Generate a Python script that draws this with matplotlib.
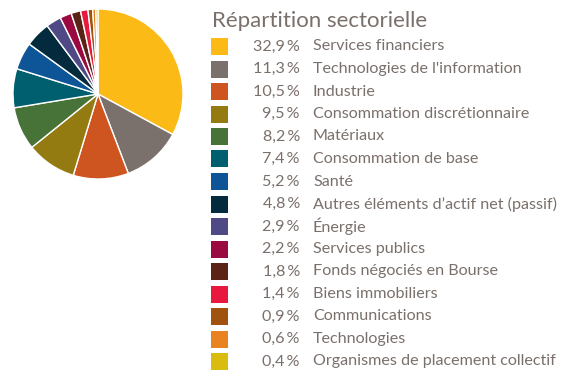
import matplotlib
matplotlib.use("Agg")
import matplotlib.pyplot as plt
from matplotlib.patches import Rectangle

sectors = [
    "Services financiers", "Technologies de l'information", "Industrie",
    "Consommation discrétionnaire", "Matériaux", "Consommation de base",
    "Santé", "Autres éléments d\u2019actif net (passif)", "Énergie",
    "Services publics", "Fonds négociés en Bourse", "Biens immobiliers",
    "Communications", "Technologies", "Organismes de placement collectif",
]
weights = [32.9, 11.3, 10.5, 9.5, 8.2, 7.4, 5.2, 4.8, 2.9, 2.2, 1.8, 1.4, 0.9, 0.6, 0.4]
colors = [
    "#FBBA16", "#7B716C", "#CF5520", "#937B12", "#477338", "#005F6E",
    "#0E5597", "#032B3D", "#4F4A86", "#9B0941", "#5A2315", "#E8183F",
    "#A0520F", "#E88320", "#D9BC0E",
]
title = "Répartition sectorielle"

W, H = 567, 370
fig = plt.figure(figsize=(W / 100, H / 100), dpi=100)
text_color = "#7A706B"
font = "Lato"

# pie
cx, cy, r = 98, 94, 85
ax = fig.add_axes([(cx - r) / W, (H - cy - r) / H, 2 * r / W, 2 * r / H])
ax.pie(weights, colors=colors, startangle=90, counterclock=False,
       wedgeprops=dict(edgecolor="white", linewidth=1.0))
ax.set_aspect("auto")
ax.set_xlim(-1.0, 1.0)
ax.set_ylim(-1.0, 1.0)
ax.axis("off")

# legend
fig.text(212 / W, 1 - 21 / H, title, fontsize=16, color=text_color,
         family=font, va="center", ha="left")
y0, dy = 46.5, 22.5
for i, (name, w, c) in enumerate(zip(sectors, weights, colors)):
    y = y0 + i * dy
    fig.add_artist(Rectangle((211 / W, 1 - (y + 8.5) / H), 17 / W, 17 / H,
                             transform=fig.transFigure, facecolor=c,
                             edgecolor="none"))
    pct = f"{w:.1f}".replace(".", ",") + "\u2009%"
    fig.text(300 / W, 1 - y / H, pct, fontsize=11.6, color=text_color,
             family=font, va="center", ha="right")
    fig.text(313 / W, 1 - y / H, name, fontsize=11.6, color=text_color,
             family=font, va="center", ha="left")

fig.savefig("out.png", dpi=100)
